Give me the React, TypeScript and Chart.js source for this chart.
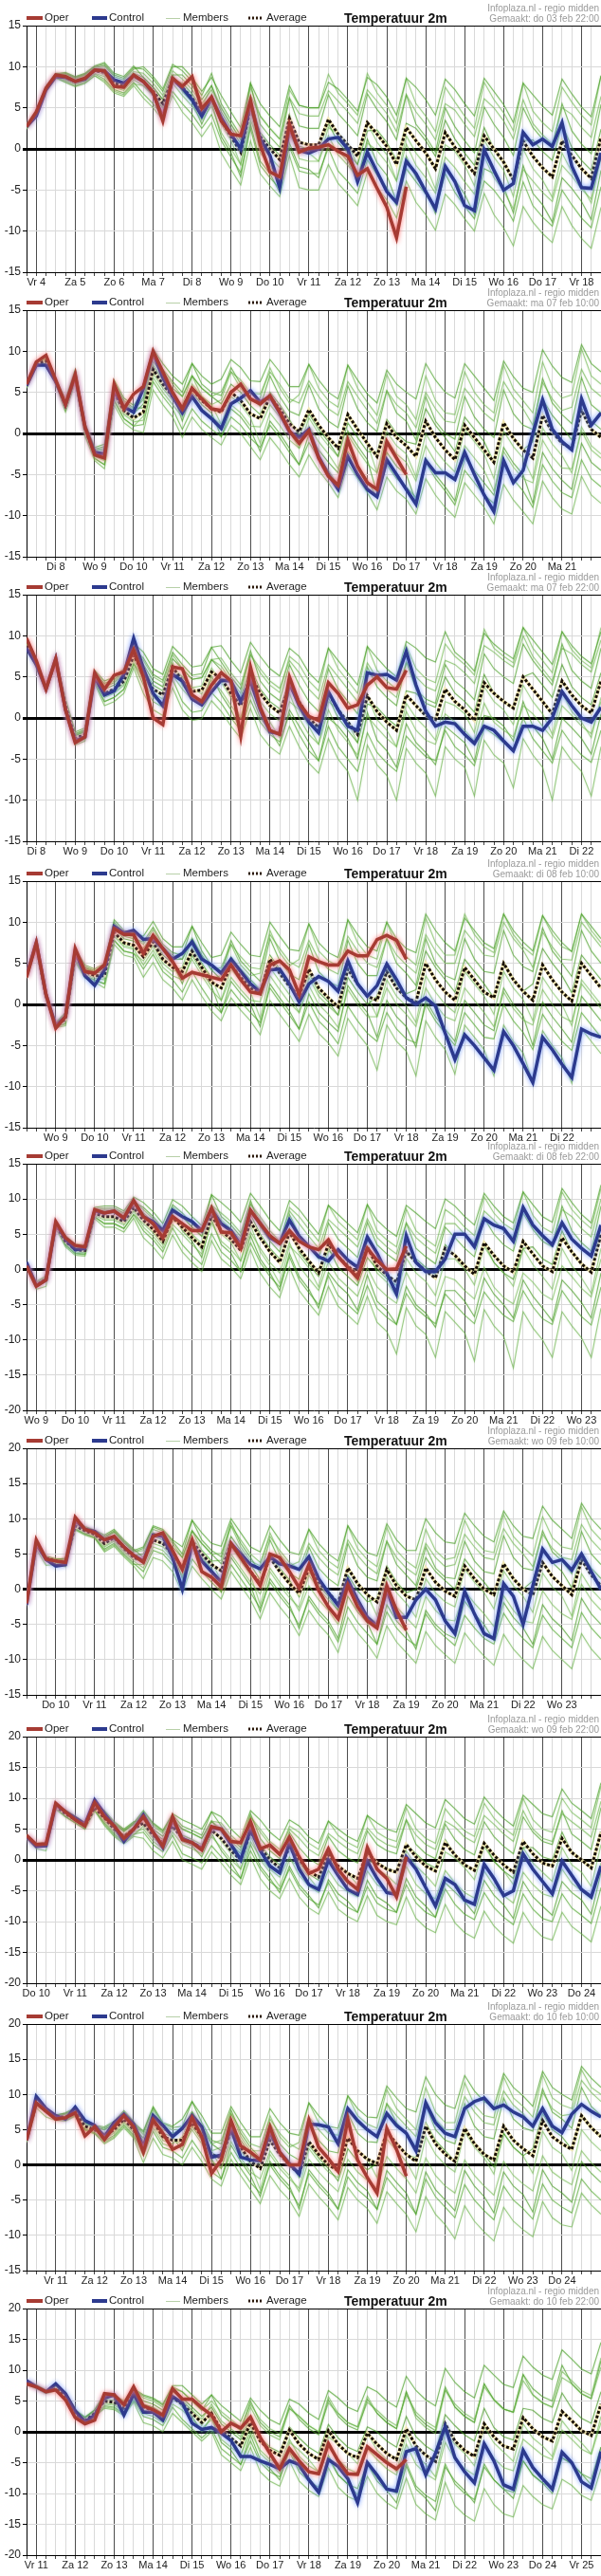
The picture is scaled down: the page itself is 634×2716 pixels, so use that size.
import React, { useEffect, useRef } from 'react';
import { Chart, registerables } from 'chart.js';

Chart.register(...registerables);

// ---------------- Panel 1 (do 03 feb 22:00) ----------------
const P1_DAYS = ['Vr 4','Za 5','Zo 6','Ma 7','Di 8','Wo 9','Do 10','Vr 11','Za 12','Zo 13','Ma 14','Di 15','Wo 16','Do 17','Vr 18'];
const P1_OPER = [2.7,4.5,7.4,9.0, 8.8,8.2,8.6,9.6, 9.5,7.6,7.5,9.0, 8.2,6.9,3.4,8.6, 7.6,8.8,4.9,6.3, 3.4,1.8,1.6,5.9, 0.5,-2.8,-3.4,3.0, -0.4,0.1,0.2,0.5, -0.3,-0.9,-3.2,-2.4, -4.8,-7.1,-10.8,-4.6];
const P1_CONTROL = [2.7,4.0,7.2,8.8, 8.7,8.2,8.5,9.6, 9.5,8.4,8.0,8.9, 8.2,6.8,3.8,8.5, 7.4,6.0,4.0,6.2, 3.8,1.8,0.0,5.5, 1.2,-0.8,-4.7,2.6, -0.2,-0.5,0.0,1.2, 1.4,0.0,-4.0,-0.4, -2.8,-5.2,-6.5,-1.5, -3.0,-5.2,-7.3,-2.1, -4.0,-6.9,-7.5,-0.1, -2.6,-5.0,-4.2,2.0, 0.5,1.2,0.3,3.2, -2.1,-4.7,-4.8,-0.5];
const P1_AVERAGE = [2.7,4.3,7.3,8.9, 8.7,8.2,8.6,9.5, 9.3,8.0,7.6,8.9, 8.2,7.0,5.5,8.5, 7.5,6.2,4.5,6.2, 3.5,1.5,-0.4,5.0, 1.5,0.0,-1.3,3.7, 0.8,0.5,0.5,3.6, 1.8,0.5,-0.9,3.2, 1.8,0.3,-1.9,2.6, 1.0,-0.5,-2.4,2.0, 0.2,-1.5,-3.0,1.6, 0.0,-1.6,-3.8,1.0, -0.9,-2.3,-3.4,1.0, -0.8,-2.4,-3.6,1.4];
const P1_MEMBERS = [
  [3.0,4.6,7.6,9.2, 9.2,8.7,9.1,10.0, 10.3,9.0,8.6,9.9, 9.7,8.5,7.0,10.0, 10.0,8.7,7.0,8.7, 6.5,4.5,2.6,8.0, 5.5,4.0,2.7,7.7, 5.3,5.0,5.0,8.1, 7.3,6.0,4.6,8.7, 7.8,6.3,4.1,8.6, 7.5,6.0,4.1,8.5, 7.2,5.5,4.0,8.6, 7.0,5.4,3.2,8.0, 6.6,5.2,4.1,8.5, 6.7,5.1,3.9,8.9],
  [2.9,4.5,7.5,9.1, 9.0,8.5,8.9,9.8, 9.8,8.5,8.1,9.4, 9.2,8.0,6.5,9.5, 8.5,7.2,5.5,7.2, 5.0,3.0,1.1,6.5, 4.0,2.5,1.2,6.2, 4.3,4.0,4.0,7.1, 5.8,4.5,3.1,7.2, 5.8,4.3,2.1,6.6, 4.5,3.0,1.1,5.5, 4.7,3.0,1.5,6.1, 5.0,3.4,1.2,6.0, 3.1,1.7,0.6,5.0, 4.2,2.6,1.4,6.4],
  [2.6,4.2,7.2,8.8, 8.9,8.4,8.8,9.7, 9.6,8.3,7.9,9.2, 8.7,7.5,6.0,9.0, 9.0,7.7,6.0,7.7, 4.5,2.5,0.6,6.0, 2.0,0.5,-0.8,4.2, 0.3,0.0,0.0,3.1, 0.8,-0.5,-1.9,2.2, 2.3,0.8,-1.4,3.1, 2.5,1.0,-0.9,3.5, 1.2,-0.5,-2.0,2.6, 0.0,-1.6,-3.8,1.0, 1.1,-0.3,-1.4,3.0, 0.2,-1.4,-2.6,2.4],
  [2.7,4.3,7.3,8.9, 8.4,7.9,8.3,9.2, 8.8,7.5,7.1,8.4, 7.7,6.5,5.0,8.0, 6.5,5.2,3.5,5.2, 2.0,0.0,-1.9,3.5, 0.5,-1.0,-2.3,2.7, -1.2,-1.5,-1.5,1.6, -0.7,-2.0,-3.4,0.7, -0.2,-1.7,-3.9,0.6, -2.0,-3.5,-5.4,-1.0, -2.3,-4.0,-5.5,-0.9, -3.5,-5.1,-7.3,-2.5, -3.9,-5.3,-6.4,-2.0, -3.3,-4.9,-6.1,-1.1],
  [2.5,4.1,7.1,8.7, 8.3,7.8,8.2,9.1, 8.5,7.2,6.8,8.1, 6.7,5.5,4.0,7.0, 5.5,4.2,2.5,4.2, 1.0,-1.0,-2.9,2.5, -2.0,-3.5,-4.8,0.2, -2.7,-3.0,-3.0,0.1, -2.7,-4.0,-5.4,-1.3, -3.2,-4.7,-6.9,-2.4, -4.0,-5.5,-7.4,-3.0, -5.3,-7.0,-8.5,-3.9, -5.0,-6.6,-8.8,-4.0, -6.9,-8.3,-9.4,-5.0, -6.8,-8.4,-9.6,-4.6],
  [2.4,4.0,7.0,8.6, 8.1,7.6,8.0,8.9, 8.1,6.8,6.4,7.7, 6.2,5.0,3.5,6.5, 4.5,3.2,1.5,3.2, -0.5,-2.5,-4.4,1.0, -3.0,-4.5,-5.8,-0.8, -4.7,-5.0,-5.0,-1.9, -4.2,-5.5,-6.9,-2.8, -4.7,-6.2,-8.4,-3.9, -6.5,-8.0,-9.9,-5.5, -6.8,-8.5,-10.0,-5.4, -8.0,-9.6,-11.8,-7.0, -8.9,-10.3,-11.4,-7.0, -9.3,-10.9,-12.1,-7.1],
  [2.8,4.4,7.4,9.0, 9.1,8.6,9.0,9.9, 10.1,8.8,8.4,9.7, 10.0,8.8,7.3,10.3, 9.5,8.2,6.5,9.2, 5.5,3.5,1.6,8.0, 3.0,1.5,0.2,6.2, 2.8,2.5,2.5,6.6, 4.3,3.0,1.6,6.7, 4.8,3.3,1.1,6.6, 3.0,1.5,-0.4,5.0, 2.7,1.0,-0.5,5.1, 3.0,1.4,-0.8,5.0, 2.6,1.2,0.1,5.5, 2.2,0.6,-0.6,5.4],
  [2.6,4.2,7.2,8.8, 8.7,8.2,8.6,9.5, 9.0,7.7,7.3,8.6, 8.2,7.0,5.5,8.5, 8.0,6.7,4.0,6.7, 3.0,1.0,-1.9,4.5, -0.5,-2.0,-4.3,1.7, -0.2,-0.5,-1.5,2.6, 1.8,0.5,-1.9,3.2, 0.8,-0.7,-3.9,1.6, -0.5,-2.0,-4.9,0.5, -0.3,-2.0,-4.5,1.1, -1.0,-2.6,-5.8,0.0, -2.4,-3.8,-5.9,-0.5, -2.8,-4.4,-6.6,-0.6],
  [2.9,4.5,7.5,9.1, 9.3,8.8,9.2,10.1, 10.5,9.2,8.8,10.1, 8.7,7.5,6.0,9.0, 7.0,5.7,3.0,5.7, 1.5,-0.5,-3.4,3.0, -1.5,-3.0,-5.3,0.7, -2.2,-2.5,-3.5,0.6, -0.2,-1.5,-3.9,1.2, -1.7,-3.2,-6.4,-0.9, -3.5,-5.0,-7.9,-2.5, -3.8,-5.5,-8.0,-2.4, -3.0,-4.6,-7.8,-2.0, -5.4,-6.8,-8.9,-3.5, -4.8,-6.4,-8.6,-2.6],
  [2.5,4.1,7.1,8.7, 8.1,7.6,8.0,8.9, 8.3,7.0,6.6,7.9, 7.7,6.5,5.0,8.0, 8.0,6.7,5.0,7.7, 5.0,3.0,1.1,7.5, 4.0,2.5,1.2,7.2, 5.3,5.0,5.0,9.1, 6.8,5.5,4.1,9.2, 6.8,5.3,3.1,8.6, 5.5,4.0,2.1,7.5, 5.7,4.0,2.5,8.1, 6.0,4.4,2.2,8.0, 4.6,3.2,2.1,7.5, 5.7,4.1,2.9,8.9],
];

// ---------------- Panel 2 (ma 07 feb 10:00) ----------------
const P2_DAYS = ['Di 8','Wo 9','Do 10','Vr 11','Za 12','Zo 13','Ma 14','Di 15','Wo 16','Do 17','Vr 18','Za 19','Zo 20','Ma 21'];
const P2_OPER = [6.0,8.7,9.5,6.5, 3.5,7.2,0.8,-2.6, -3.0,6.0,3.0,4.8, 5.7,10.0,7.5,5.0, 3.0,5.5,4.2,3.0, 2.8,5.0,6.0,4.2, 3.6,4.6,2.6,0.3, -1.2,0.3,-3.0,-5.2, -6.3,-0.8,-4.0,-6.0, -6.8,-1.0,-3.0,-5.0];
const P2_CONTROL = [5.8,8.3,8.3,6.3, 3.5,7.0,0.8,-2.3, -2.5,5.2,3.2,2.6, 5.5,9.8,6.8,4.5, 2.5,4.5,2.8,1.8, 0.6,3.6,4.3,5.2, 3.8,4.5,2.5,0.2, -0.5,0.5,-2.8,-5.0, -6.8,-2.8,-5.0,-6.8, -7.7,-3.2,-5.0,-6.8, -8.6,-3.3,-4.8,-4.8, -5.6,-2.3,-5.0,-7.5, -9.5,-3.3,-6.0,-4.5, 0.0,4.1,0.5,-1.0, -2.0,4.2,1.0,2.5];
const P2_AVERAGE = [5.8,8.5,8.8,6.3, 3.4,7.0,0.5,-2.5, -2.8,5.0,2.8,1.9, 2.6,7.8,6.0,4.5, 3.0,5.5,4.0,3.0, 2.6,5.0,4.0,2.4, 1.8,4.5,3.0,1.2, 0.2,2.9,1.0,-0.5, -1.8,2.3,0.5,-1.2, -2.8,1.2,-0.5,-1.5, -2.8,1.5,-0.5,-2.0, -3.2,1.0,-0.5,-2.0, -3.5,1.3,-0.6,-2.0, -3.0,2.2,0.2,-1.2, -1.8,2.8,0.5,-0.5];
const P2_MEMBERS = [
  [6.1,8.8,9.1,6.6, 4.2,7.8,1.3,-1.7, -1.3,6.5,4.3,3.4, 5.1,10.3,8.5,7.0, 6.0,8.5,7.0,6.0, 6.6,9.0,8.0,6.4, 6.3,9.0,7.5,5.7, 5.7,8.4,6.5,5.0, 4.2,8.3,6.5,4.8, 3.7,7.7,6.0,5.0, 4.2,8.5,6.5,5.0, 4.3,8.5,7.0,5.5, 4.0,8.8,6.9,5.5, 5.0,10.2,8.2,6.8, 6.2,10.8,8.5,7.5],
  [6.0,8.7,9.0,6.5, 3.9,7.5,1.0,-2.0, -1.8,6.0,3.8,2.9, 4.1,9.3,7.5,6.0, 4.5,7.0,5.5,4.5, 5.1,7.5,6.5,4.9, 4.8,7.5,6.0,4.2, 3.7,6.4,4.5,3.0, 2.2,6.3,4.5,2.8, 1.2,5.2,3.5,2.5, 0.7,5.0,3.0,1.5, 1.3,5.5,4.0,2.5, 1.5,6.3,4.4,3.0, 1.0,6.2,4.2,2.8, 3.2,7.8,5.5,4.5],
  [5.7,8.4,8.7,6.2, 3.7,7.3,0.8,-2.2, -2.3,5.5,3.3,2.4, 3.6,8.8,7.0,5.5, 4.5,7.0,5.5,4.5, 3.6,6.0,5.0,3.4, 2.3,5.0,3.5,1.7, -0.3,2.4,0.5,-1.0, -2.8,1.3,-0.5,-2.2, -2.3,1.7,0.0,-1.0, -1.3,3.0,1.0,-0.5, -2.2,2.0,0.5,-1.0, -3.5,1.3,-0.6,-2.0, -1.0,4.2,2.2,0.8, -0.8,3.8,1.5,0.5],
  [5.8,8.5,8.8,6.3, 3.1,6.7,0.2,-2.8, -3.3,4.5,2.3,1.4, 1.6,6.8,5.0,3.5, 2.0,4.5,3.0,2.0, 1.1,3.5,2.5,0.9, 0.8,3.5,2.0,0.2, -1.8,0.9,-1.0,-2.5, -4.3,-0.2,-2.0,-3.7, -4.8,-0.8,-2.5,-3.5, -5.8,-1.5,-3.5,-5.0, -5.7,-1.5,-3.0,-4.5, -7.0,-2.2,-4.1,-5.5, -6.0,-0.8,-2.8,-4.2, -4.3,0.3,-2.0,-3.0],
  [5.6,8.3,8.6,6.1, 2.9,6.5,0.0,-3.0, -3.8,4.0,1.8,0.9, 1.1,6.3,4.5,3.0, 0.5,3.0,1.5,0.5, -0.4,2.0,1.0,-0.6, -1.7,1.0,-0.5,-2.3, -3.8,-1.1,-3.0,-4.5, -6.3,-2.2,-4.0,-5.7, -7.8,-3.8,-5.5,-6.5, -7.8,-3.5,-5.5,-7.0, -8.7,-4.5,-6.0,-7.5, -8.5,-3.7,-5.6,-7.0, -9.0,-3.8,-5.8,-7.2, -7.8,-3.2,-5.5,-6.5],
  [5.5,8.2,8.5,6.0, 2.6,6.2,-0.3,-3.3, -4.3,3.5,1.3,0.4, 0.1,5.3,3.5,2.0, -0.5,2.0,0.5,-0.5, -1.4,1.0,0.0,-1.6, -3.2,-0.5,-2.0,-3.8, -5.3,-2.6,-4.5,-6.0, -7.8,-3.7,-5.5,-7.2, -9.3,-5.3,-7.0,-8.0, -9.8,-5.5,-7.5,-9.0, -10.2,-6.0,-7.5,-9.0, -11.0,-6.2,-8.1,-9.5, -11.0,-5.8,-7.8,-9.2, -9.8,-5.2,-7.5,-8.5],
  [5.9,8.6,8.9,6.4, 3.8,7.4,0.9,-2.1, -2.0,5.8,3.6,2.7, 4.4,9.6,7.8,6.3, 5.0,8.5,6.0,5.0, 4.6,8.0,6.0,4.4, 3.3,7.0,4.5,2.7, 2.2,5.9,3.0,1.5, 0.7,5.8,3.0,1.3, 0.2,5.2,2.5,1.5, -0.8,4.5,1.5,0.0, -0.7,4.5,2.0,0.5, -0.5,5.3,2.4,1.0, 0.5,6.7,3.7,2.3, 1.2,6.8,3.5,2.5],
  [5.7,8.4,8.7,6.2, 3.4,7.0,0.5,-2.5, -3.1,4.7,2.5,1.6, 2.6,7.8,6.0,4.5, 2.5,6.0,4.5,3.5, 1.1,4.5,3.5,1.9, -1.2,2.5,1.0,-0.8, -1.8,1.9,0.0,-1.5, -2.8,2.3,0.5,-1.2, -4.8,0.2,-1.5,-2.5, -5.3,0.0,-2.0,-3.5, -4.7,0.5,-1.0,-2.5, -5.5,0.3,-1.6,-3.0, -5.5,0.7,-1.3,-2.7, -4.8,0.8,-1.5,-2.5],
  [6.0,8.7,9.0,6.5, 4.0,7.6,1.1,-1.9, -1.6,6.2,4.0,3.1, 3.1,8.3,6.5,5.0, 1.5,5.0,3.5,2.5, -0.4,3.0,2.0,0.4, -2.2,1.5,0.0,-1.8, -3.8,-0.1,-2.0,-3.5, -4.8,0.3,-1.5,-3.2, -7.3,-2.3,-4.0,-5.0, -8.3,-3.0,-5.0,-6.5, -8.2,-3.0,-4.5,-6.0, -7.5,-1.7,-3.6,-5.0, -8.5,-2.3,-4.3,-5.7, -6.8,-1.2,-3.5,-4.5],
  [5.6,8.3,8.6,6.1, 2.8,6.4,-0.1,-3.1, -3.8,4.0,1.8,0.9, 2.1,7.3,5.5,4.0, 3.5,7.0,4.5,3.5, 4.1,7.5,5.5,3.9, 4.3,8.0,5.5,3.7, 4.7,8.4,5.5,4.0, 3.2,8.3,5.5,3.8, 2.2,7.2,4.5,3.5, 1.7,7.0,4.0,2.5, 2.3,7.5,5.0,3.5, 2.5,8.3,5.4,4.0, 2.5,8.7,5.7,4.3, 4.7,10.3,7.0,6.0],
];

// ---------------- Panel 3 (ma 07 feb 22:00) ----------------
const P3_DAYS = ['Di 8','Wo 9','Do 10','Vr 11','Za 12','Zo 13','Ma 14','Di 15','Wo 16','Do 17','Vr 18','Za 19','Zo 20','Ma 21','Di 22'];
const P3_OPER = [9.7,7.0,3.5,7.2, 1.0,-3.0,-2.3,5.5, 3.5,5.2,5.6,8.3, 5.0,0.0,-0.8,6.2, 6.0,2.8,2.0,4.0, 5.5,4.5,-2.2,6.2, 1.3,-1.5,-2.0,5.0, 1.8,0.2,-0.3,4.3, 3.0,1.2,1.6,4.0, 5.0,3.7,3.5,5.8];
const P3_CONTROL = [8.5,6.5,3.5,7.2, 1.0,-2.8,-2.3,5.0, 2.8,3.3,5.3,9.7, 6.0,3.0,1.5,5.3, 4.5,2.3,1.6,3.2, 4.6,4.5,2.0,4.5, 1.0,-1.7,-1.9,4.3, 1.5,-0.5,-1.8,3.2, 1.0,-1.0,-1.5,5.5, 5.2,5.3,4.6,8.1, 4.0,0.8,-1.0,-0.5, -0.7,-2.0,-3.1,-1.0, -1.5,-2.8,-4.0,-1.0, -1.0,-1.5,0.0,3.2, 1.5,0.0,-0.5,1.3];
const P3_AVERAGE = [8.8,6.5,3.6,7.0, 1.5,-2.5,-2.0,5.0, 3.0,3.5,4.5,7.6, 5.5,3.5,2.8,6.2, 4.5,3.2,3.4,5.6, 4.8,3.0,1.5,5.2, 3.0,1.5,0.6,4.0, 2.0,0.0,-1.2,3.0, 1.0,-0.5,-2.0,2.7, 0.8,-0.5,-1.5,2.8, 1.5,0.3,-0.2,3.5, 2.0,1.0,-0.3,4.3, 3.0,2.0,1.2,5.0, 3.5,2.0,0.5,4.5, 2.8,1.5,0.6,4.5];
const P3_MEMBERS = [
  [9.1,6.8,3.9,7.3, 2.3,-1.7,-1.2,5.8, 4.5,5.0,6.0,9.1, 8.0,6.0,5.3,8.7, 7.5,6.2,6.4,8.6, 8.8,7.0,5.5,9.2, 7.5,6.0,5.1,8.5, 7.5,5.5,4.3,8.5, 7.0,5.5,4.0,8.7, 7.3,6.0,5.0,9.3, 8.5,7.3,6.8,10.5, 8.0,7.0,5.7,10.3, 9.0,8.0,7.2,11.0, 9.5,8.0,6.5,10.5, 8.8,7.5,6.6,10.5],
  [9.0,6.7,3.8,7.2, 2.0,-2.0,-1.5,5.5, 4.0,4.5,5.5,8.6, 7.0,5.0,4.3,7.7, 6.0,4.7,4.9,7.1, 7.3,5.5,4.0,7.7, 6.0,4.5,3.6,7.0, 5.5,3.5,2.3,6.5, 5.0,3.5,2.0,6.7, 4.8,3.5,2.5,6.8, 5.0,3.8,3.3,7.0, 6.5,5.5,4.2,8.8, 8.0,7.0,6.2,10.0, 7.5,6.0,4.5,8.5, 7.8,6.5,5.6,9.5],
  [8.7,6.4,3.5,6.9, 1.8,-2.2,-1.7,5.3, 3.5,4.0,5.0,8.1, 6.5,4.5,3.8,7.2, 6.0,4.7,4.9,7.1, 5.8,4.0,2.5,6.2, 3.5,2.0,1.1,4.5, 1.5,-0.5,-1.7,2.5, 0.0,-1.5,-3.0,1.7, 1.3,0.0,-1.0,3.3, 3.0,1.8,1.3,5.0, 3.0,2.0,0.7,5.3, 3.0,2.0,1.2,5.0, 5.5,4.0,2.5,6.5, 3.8,2.5,1.6,5.5],
  [8.8,6.5,3.6,7.0, 1.2,-2.8,-2.3,4.7, 2.5,3.0,4.0,7.1, 4.5,2.5,1.8,5.2, 3.5,2.2,2.4,4.6, 3.3,1.5,0.0,3.7, 2.0,0.5,-0.4,3.0, 0.0,-2.0,-3.2,1.0, -1.5,-3.0,-4.5,0.2, -1.2,-2.5,-3.5,0.8, -1.5,-2.7,-3.2,0.5, -0.5,-1.5,-2.8,1.8, -0.5,-1.5,-2.3,1.5, 0.5,-1.0,-2.5,1.5, 0.3,-1.0,-1.9,2.0],
  [8.6,6.3,3.4,6.8, 1.0,-3.0,-2.5,4.5, 2.0,2.5,3.5,6.6, 4.0,2.0,1.3,4.7, 2.0,0.7,0.9,3.1, 1.8,0.0,-1.5,2.2, -0.5,-2.0,-2.9,0.5, -2.0,-4.0,-5.2,-1.0, -3.5,-5.0,-6.5,-1.8, -4.2,-5.5,-6.5,-2.2, -3.5,-4.7,-5.2,-1.5, -3.5,-4.5,-5.8,-1.2, -2.0,-3.0,-3.8,0.0, -2.5,-4.0,-5.5,-1.5, -3.2,-4.5,-5.4,-1.5],
  [8.5,6.2,3.3,6.7, 0.7,-3.3,-2.8,4.2, 1.5,2.0,3.0,6.1, 3.0,1.0,0.3,3.7, 1.0,-0.3,-0.1,2.1, 0.8,-1.0,-2.5,1.2, -2.0,-3.5,-4.4,-1.0, -3.5,-5.5,-6.7,-2.5, -5.0,-6.5,-10.0,-3.3, -5.7,-7.0,-10.0,-3.7, -5.5,-6.7,-9.5,-3.5, -5.0,-6.0,-9.5,-2.7, -4.5,-5.5,-8.5,-2.5, -4.5,-6.0,-10.0,-3.5, -5.2,-6.5,-9.5,-3.5],
  [8.9,6.6,3.7,7.1, 1.9,-2.1,-1.6,5.4, 3.8,4.3,5.3,8.4, 7.3,5.3,4.6,8.0, 6.5,5.2,5.4,8.6, 6.8,5.0,3.5,8.2, 4.5,3.0,2.1,6.5, 4.0,2.0,0.8,6.0, 3.5,2.0,0.5,6.2, 3.8,2.5,1.5,6.8, 3.5,2.3,1.8,6.5, 4.5,3.5,2.2,7.8, 6.0,5.0,4.2,9.0, 7.0,5.5,4.0,9.0, 5.8,4.5,3.6,8.5],
  [8.7,6.4,3.5,6.9, 1.5,-2.5,-2.0,5.0, 2.7,3.2,4.2,7.3, 5.5,3.5,2.8,6.2, 5.0,3.7,2.9,6.1, 4.3,2.5,0.0,4.7, 1.0,-0.5,-2.4,2.0, 1.0,-1.0,-3.2,2.0, 1.0,-0.5,-3.0,2.7, -0.2,-1.5,-3.5,1.8, 0.0,-1.2,-2.7,2.0, 1.5,0.5,-1.8,3.8, 2.0,1.0,-0.8,4.0, 2.0,0.5,-2.0,3.0, 0.8,-0.5,-2.4,2.5],
  [9.0,6.7,3.8,7.2, 2.1,-1.9,-1.4,5.6, 4.2,4.7,5.7,8.8, 6.0,4.0,3.3,6.7, 4.0,2.7,1.9,5.1, 2.8,1.0,-1.5,3.2, 0.0,-1.5,-3.4,1.0, -1.0,-3.0,-5.2,0.0, -1.0,-2.5,-5.0,0.7, -2.7,-4.0,-6.0,-0.7, -3.0,-4.2,-5.7,-1.0, -2.0,-3.0,-5.3,0.3, 0.0,-1.0,-2.8,2.0, -1.0,-2.5,-5.0,0.0, -1.2,-2.5,-4.4,0.5],
  [8.6,6.3,3.4,6.8, 0.9,-3.1,-2.6,4.4, 2.0,2.5,3.5,6.6, 5.0,3.0,2.3,5.7, 5.0,3.7,3.9,7.1, 6.3,4.5,3.0,7.7, 5.5,4.0,3.1,7.5, 6.5,4.5,3.3,8.5, 6.0,4.5,3.0,8.7, 5.8,4.5,3.5,8.8, 6.0,4.8,4.3,9.0, 7.5,6.5,5.2,10.8, 8.5,7.5,6.7,11.0, 8.5,7.0,5.5,10.5, 8.3,7.0,6.1,11.0],
];

// ---------------- Panel 4 (di 08 feb 10:00) ----------------
const P4_DAYS = ['Wo 9','Do 10','Vr 11','Za 12','Zo 13','Ma 14','Di 15','Wo 16','Do 17','Vr 18','Za 19','Zo 20','Ma 21','Di 22'];
const P4_OPER = [3.3,7.5,1.2,-2.9, -1.5,6.8,4.0,3.8, 4.8,9.2,8.5,8.5, 6.2,8.4,6.8,5.2, 3.2,3.9,3.6,3.3, 3.0,4.8,3.0,1.5, 1.3,4.8,5.3,4.2, 1.2,5.8,5.2,4.8, 4.8,6.5,5.9,5.9, 7.9,8.4,7.8,5.5];
const P4_CONTROL = [3.5,7.5,1.2,-2.6, -1.5,6.5,3.5,2.3, 4.2,9.5,8.7,9.0, 7.9,8.0,6.8,5.5, 6.2,7.6,5.5,4.8, 3.8,5.5,4.0,2.5, 1.5,4.2,4.3,2.5, 0.3,2.5,3.4,2.8, 1.6,5.3,2.5,1.0, 2.3,4.9,3.0,0.8, 0.0,0.8,-0.2,-3.5, -6.7,-3.7,-5.0,-6.5, -8.0,-3.3,-5.0,-7.2, -9.5,-4.0,-5.5,-7.3, -8.9,-3.0,-3.6,-4.0];
const P4_AVERAGE = [3.5,7.3,1.0,-2.5, -1.8,6.0,4.0,3.5, 3.5,8.8,7.5,7.2, 5.8,7.6,5.5,4.5, 4.0,6.5,4.5,2.7, 2.0,4.8,3.3,2.0, 1.3,5.5,3.8,2.2, 1.0,4.3,2.0,0.8, -0.3,4.3,2.5,1.0, 0.5,4.0,2.0,0.8, 0.3,5.0,3.0,1.5, 0.5,4.5,3.0,1.5, 0.8,5.0,3.0,1.6, 0.5,4.8,3.0,1.5, 0.4,5.0,3.5,2.0];
const P4_MEMBERS = [
  [3.8,7.6,1.3,-2.2, -1.0,6.8,4.8,4.3, 5.0,10.3,9.0,8.7, 8.3,10.1,8.0,7.0, 7.0,9.5,7.5,5.7, 6.0,8.8,7.3,6.0, 5.8,10.0,8.3,6.7, 6.5,9.8,7.5,6.3, 5.7,10.3,8.5,7.0, 6.5,10.0,8.0,6.8, 6.3,11.0,9.0,7.5, 6.5,10.5,9.0,7.5, 6.8,11.0,9.0,7.6, 6.5,10.8,9.0,7.5, 6.4,11.0,9.5,8.0],
  [3.7,7.5,1.2,-2.3, -1.3,6.5,4.5,4.0, 4.5,9.8,8.5,8.2, 7.3,9.1,7.0,6.0, 5.5,8.0,6.0,4.2, 4.5,7.3,5.8,4.5, 4.3,8.5,6.8,5.2, 4.5,7.8,5.5,4.3, 3.7,8.3,6.5,5.0, 4.5,8.0,6.0,4.8, 3.8,8.5,6.5,5.0, 5.0,9.0,7.5,6.0, 5.8,10.0,8.0,6.6, 4.5,8.8,7.0,5.5, 5.4,10.0,8.5,7.0],
  [3.4,7.2,0.9,-2.6, -1.5,6.3,4.3,3.8, 4.0,9.3,8.0,7.7, 6.8,8.6,6.5,5.5, 5.5,8.0,6.0,4.2, 3.0,5.8,4.3,3.0, 1.8,6.0,4.3,2.7, 0.5,3.8,1.5,0.3, -1.3,3.3,1.5,0.0, 1.0,4.5,2.5,1.3, 1.8,6.5,4.5,3.0, 1.5,5.5,4.0,2.5, 0.8,5.0,3.0,1.6, 2.5,6.8,5.0,3.5, 1.4,6.0,4.5,3.0],
  [3.5,7.3,1.0,-2.5, -2.1,5.7,3.7,3.2, 3.0,8.3,7.0,6.7, 4.8,6.6,4.5,3.5, 3.0,5.5,3.5,1.7, 0.5,3.3,1.8,0.5, 0.3,4.5,2.8,1.2, -1.0,2.3,0.0,-1.2, -2.8,1.8,0.0,-1.5, -1.5,2.0,0.0,-1.2, -2.7,2.0,0.0,-1.5, -2.0,2.0,0.5,-1.0, -2.7,1.5,-0.5,-1.9, -2.5,1.8,0.0,-1.5, -2.1,2.5,1.0,-0.5],
  [3.3,7.1,0.8,-2.7, -2.3,5.5,3.5,3.0, 2.5,7.8,6.5,6.2, 4.3,6.1,4.0,3.0, 1.5,4.0,2.0,0.2, -1.0,1.8,0.3,-1.0, -2.2,2.0,0.3,-1.3, -3.0,0.3,-2.0,-3.2, -4.8,-0.2,-2.0,-3.5, -4.5,-1.0,-3.0,-4.2, -4.7,0.0,-2.0,-3.5, -5.0,-1.0,-2.5,-4.0, -4.2,0.0,-2.0,-3.4, -5.5,-1.2,-3.0,-4.5, -5.6,-1.0,-2.5,-4.0],
  [3.2,7.0,0.7,-2.8, -2.6,5.2,3.2,2.7, 2.0,7.3,6.0,5.7, 3.3,5.1,3.0,2.0, 0.5,3.0,1.0,-0.8, -2.0,0.8,-0.7,-2.0, -3.7,0.5,-1.2,-2.8, -4.5,-1.2,-3.5,-4.7, -6.3,-1.7,-3.5,-5.0, -8.0,-2.5,-4.5,-5.7, -8.7,-2.0,-4.0,-5.5, -8.5,-2.5,-4.0,-5.5, -8.7,-2.5,-4.5,-5.9, -9.5,-3.2,-5.0,-6.5, -9.6,-3.0,-4.5,-6.0],
  [3.6,7.4,1.1,-2.4, -1.4,6.4,4.4,3.9, 4.3,9.6,8.3,8.0, 7.6,9.4,7.3,6.3, 6.0,9.5,6.5,4.7, 4.0,7.8,5.3,4.0, 2.8,8.0,5.3,3.7, 3.0,7.3,4.0,2.8, 2.2,7.8,5.0,3.5, 3.5,8.0,5.0,3.8, 2.3,8.0,5.0,3.5, 3.0,8.0,5.5,4.0, 3.8,9.0,6.0,4.6, 4.0,9.3,6.5,5.0, 3.4,9.0,6.5,5.0],
  [3.4,7.2,0.9,-2.6, -1.8,6.0,4.0,3.5, 3.2,8.5,7.2,6.9, 5.8,7.6,5.5,4.5, 3.5,7.0,5.0,3.2, 0.5,4.3,2.8,1.5, -1.7,3.5,1.8,0.2, -1.0,3.3,1.0,-0.2, -1.3,4.3,2.5,1.0, -1.5,3.0,1.0,-0.2, -2.2,3.5,1.5,0.0, -1.0,4.0,2.5,1.0, -1.2,4.0,2.0,0.6, -2.0,3.3,1.5,0.0, -2.6,3.0,1.5,0.0],
  [3.7,7.5,1.2,-2.3, -1.2,6.6,4.6,4.1, 4.7,10.0,8.7,8.4, 6.3,8.1,6.0,5.0, 2.5,6.0,4.0,2.2, -1.0,2.8,1.3,0.0, -2.7,2.5,0.8,-0.8, -3.0,1.3,-1.0,-2.2, -3.3,2.3,0.5,-1.0, -4.0,0.5,-1.5,-2.7, -5.2,0.5,-1.5,-3.0, -4.5,0.5,-1.0,-2.5, -3.2,2.0,0.0,-1.4, -5.0,0.3,-1.5,-3.0, -4.6,1.0,-0.5,-2.0],
  [3.3,7.1,0.8,-2.7, -2.4,5.4,3.4,2.9, 2.5,7.8,6.5,6.2, 5.3,7.1,5.0,4.0, 4.5,8.0,5.0,3.2, 3.5,7.3,4.8,3.5, 3.8,9.0,6.3,4.7, 5.5,9.8,6.5,5.3, 4.7,10.3,7.5,6.0, 5.5,10.0,7.0,5.8, 4.8,10.5,7.5,6.0, 6.0,11.0,8.5,7.0, 6.3,11.0,8.5,7.0, 6.0,10.8,8.5,7.0, 6.5,11.0,9.0,7.5],
];

// ---------------- Panel 5 (di 08 feb 22:00) ----------------
const P5_DAYS = ['Wo 9','Do 10','Vr 11','Za 12','Zo 13','Ma 14','Di 15','Wo 16','Do 17','Vr 18','Za 19','Zo 20','Ma 21','Di 22','Wo 23'];
const P5_OPER = [0.5,-2.4,-1.5,6.8, 4.5,3.4,3.2,8.5, 8.0,8.3,7.3,9.8, 7.5,6.5,4.5,7.5, 6.5,5.5,5.5,8.7, 5.3,5.2,3.0,8.4, 6.5,4.8,3.7,5.5, 4.0,3.2,2.8,4.2, 1.8,0.3,-1.2,3.0, 1.3,0.0,0.1,3.3];
const P5_CONTROL = [1.0,-2.3,-1.5,6.5, 4.3,2.8,3.0,8.3, 8.0,8.3,7.2,9.7, 7.5,6.8,5.5,8.4, 7.5,6.8,5.5,8.5, 6.5,5.5,3.5,8.3, 6.5,4.5,3.7,7.0, 4.7,3.3,1.8,1.2, 2.8,1.3,0.3,4.6, 2.3,-0.5,-3.5,4.8, 1.0,-0.3,-0.3,1.5, 5.0,5.0,3.2,7.2, 6.3,5.8,4.0,8.8, 6.3,4.8,3.5,6.6, 4.3,3.0,1.9,6.3];
const P5_AVERAGE = [0.5,-2.2,-1.4,6.3, 4.0,2.8,2.7,8.0, 7.5,7.5,6.8,8.8, 7.0,5.7,4.0,7.4, 6.0,4.5,3.2,7.6, 5.5,4.3,2.7,6.8, 4.5,2.5,1.0,5.3, 3.0,1.2,-0.5,3.6, 1.8,0.5,-0.8,3.2, 0.5,-0.8,-1.8,2.6, 1.0,-0.2,-1.2,3.0, 2.0,0.5,-0.7,3.8, 2.0,0.5,-0.4,4.0, 2.2,0.5,-0.3,4.5, 2.5,0.8,-0.4,5.0];
const P5_MEMBERS = [
  [0.8,-1.9,-1.1,6.6, 4.8,3.6,3.5,8.8, 9.0,9.0,8.3,10.3, 9.5,8.2,6.5,9.9, 9.0,7.5,6.2,10.6, 9.5,8.3,6.7,10.8, 9.0,7.0,5.5,9.8, 8.5,6.7,5.0,9.1, 7.8,6.5,5.2,9.2, 7.0,5.7,4.7,9.1, 8.0,6.8,5.8,10.0, 9.0,7.5,6.3,10.8, 9.0,7.5,6.6,11.0, 9.2,7.5,6.7,11.5, 9.5,7.8,6.6,12.0],
  [0.7,-1.7,-0.9,6.5, 4.5,3.3,3.2,8.5, 8.5,8.5,7.8,9.8, 8.5,7.2,5.5,8.9, 7.5,6.0,4.7,9.1, 8.0,6.8,5.2,9.3, 7.5,5.5,4.0,8.3, 6.5,4.7,3.0,7.1, 5.8,4.5,3.2,7.2, 4.5,3.2,2.2,6.6, 4.5,3.3,2.3,6.5, 6.5,5.0,3.8,8.3, 7.0,5.5,4.6,9.0, 6.2,4.5,3.7,8.5, 7.5,5.8,4.6,10.0],
  [0.4,-2.3,-1.5,6.2, 4.3,3.1,3.0,8.3, 8.0,8.0,7.3,9.3, 8.0,6.7,5.0,8.4, 7.5,6.0,4.7,9.1, 6.5,5.3,3.7,7.8, 5.0,3.0,1.5,5.8, 2.5,0.7,-1.0,3.1, 0.3,-1.0,-2.3,1.7, 0.0,-1.3,-2.3,2.1, 1.5,0.3,-0.7,3.5, 2.0,0.5,-0.7,3.8, 1.0,-0.5,-1.4,3.0, 3.2,1.5,0.7,5.5, 2.5,0.8,-0.4,5.0],
  [0.5,-2.2,-1.4,6.3, 3.7,2.5,2.4,7.7, 7.0,7.0,6.3,8.3, 6.0,4.7,3.0,6.4, 5.0,3.5,2.2,6.6, 4.0,2.8,1.2,5.3, 3.0,1.0,-0.5,3.8, 0.5,-1.3,-3.0,1.1, -1.2,-2.5,-3.8,0.2, -2.5,-3.8,-4.8,-0.4, -3.0,-4.2,-5.2,-1.0, -1.5,-3.0,-4.2,0.3, -2.5,-4.0,-4.9,-0.5, -1.8,-3.5,-4.3,0.5, -1.0,-2.7,-3.9,1.5],
  [0.3,-2.4,-1.6,6.1, 3.5,2.3,2.2,7.5, 6.5,6.5,5.8,7.8, 5.5,4.2,2.5,5.9, 3.5,2.0,0.7,5.1, 2.5,1.3,-0.3,3.8, 1.0,-1.0,-2.5,1.8, -1.5,-3.3,-5.0,-0.9, -3.7,-5.0,-6.3,-2.3, -5.5,-6.8,-7.8,-3.4, -5.5,-6.7,-7.7,-3.5, -5.0,-6.5,-7.7,-3.2, -5.0,-6.5,-7.4,-3.0, -5.3,-7.0,-7.8,-3.0, -5.0,-6.7,-7.9,-2.5],
  [0.2,-2.5,-1.7,6.0, 3.2,2.0,1.9,7.2, 6.0,6.0,5.3,7.3, 4.5,3.2,1.5,4.9, 2.5,1.0,-0.3,4.1, 1.5,0.3,-1.3,2.8, -0.5,-2.5,-4.0,0.3, -3.0,-4.8,-6.5,-2.4, -5.2,-6.5,-7.8,-3.8, -7.5,-8.8,-12.0,-5.4, -8.0,-9.2,-12.5,-6.0, -7.5,-9.0,-13.0,-5.7, -8.0,-9.5,-14.0,-6.0, -8.3,-10.0,-12.5,-6.0, -8.0,-9.7,-12.5,-5.5],
  [0.6,-2.1,-1.3,6.4, 4.4,3.2,3.1,8.4, 8.3,8.3,7.6,9.6, 8.8,7.5,5.8,9.2, 8.0,6.5,5.2,10.6, 7.5,6.3,4.7,9.8, 6.0,4.0,2.5,7.8, 5.0,3.2,1.5,6.6, 4.3,3.0,1.7,6.7, 3.5,2.2,1.2,6.6, 3.0,1.8,0.8,6.0, 4.5,3.0,1.8,7.3, 5.0,3.5,2.6,8.0, 5.7,4.0,3.2,9.0, 5.5,3.8,2.6,9.0],
  [0.4,-2.3,-1.5,6.2, 4.0,2.8,2.7,8.0, 7.2,7.2,6.5,8.5, 7.0,5.7,4.0,7.4, 6.5,5.0,2.7,8.1, 5.0,3.8,1.2,6.3, 2.5,0.5,-2.0,3.3, 2.0,0.2,-2.5,2.6, 1.8,0.5,-1.8,3.2, -0.5,-1.8,-3.8,1.6, -0.5,-1.7,-3.7,1.5, 1.5,0.0,-2.2,3.3, 1.0,-0.5,-2.4,3.0, 0.7,-1.0,-2.8,3.0, 0.5,-1.2,-3.4,3.0],
  [0.7,-2.0,-1.2,6.5, 4.6,3.4,3.3,8.6, 8.7,8.7,8.0,10.0, 7.5,6.2,4.5,7.9, 5.5,4.0,1.7,7.1, 3.5,2.3,-0.3,4.8, 1.5,-0.5,-3.0,2.3, -1.0,-2.8,-5.5,-0.4, -2.2,-3.5,-5.8,-0.8, -4.5,-5.8,-7.8,-2.4, -5.0,-6.2,-8.2,-3.0, -3.0,-4.5,-6.7,-1.2, -3.5,-5.0,-6.9,-1.5, -3.8,-5.5,-7.3,-1.5, -3.0,-4.7,-6.9,-0.5],
  [0.3,-2.8,-2.4,5.8, 3.4,2.2,2.1,7.4, 6.5,6.5,5.8,7.8, 6.5,5.2,3.5,6.9, 6.5,5.0,3.7,9.1, 7.0,5.8,4.2,9.3, 7.0,5.0,3.5,8.8, 7.5,5.7,4.0,9.1, 6.8,5.5,4.2,9.2, 5.5,4.2,3.2,8.6, 5.5,4.3,3.3,8.5, 7.5,6.0,4.8,10.3, 8.0,6.5,5.6,11.0, 7.7,6.0,5.2,11.0, 8.5,7.0,5.8,11.5],
];

// ---------------- Panel 6 (wo 09 feb 10:00) ----------------
const P6_DAYS = ['Do 10','Vr 11','Za 12','Zo 13','Ma 14','Di 15','Wo 16','Do 17','Vr 18','Za 19','Zo 20','Ma 21','Di 22','Wo 23'];
const P6_OPER = [-2.0,7.0,4.3,4.0, 3.8,10.2,8.5,8.0, 7.0,7.5,6.0,4.8, 3.8,7.5,8.0,5.5, 2.8,7.0,2.5,1.7, 0.3,6.5,4.5,2.5, 0.5,5.0,4.5,2.5, 0.2,3.5,-0.2,-2.5, -4.2,0.6,-2.5,-4.5, -5.5,0.5,-3.0,-5.8];
const P6_CONTROL = [-2.2,6.5,4.2,3.3, 3.5,9.8,8.5,8.2, 7.0,7.4,6.0,4.8, 4.0,7.7,7.5,4.5, 0.0,6.5,4.0,2.5, 1.0,6.5,5.0,3.5, 2.9,4.6,3.6,3.3, 2.8,4.6,1.5,-0.5, -2.3,1.3,-1.5,-4.0, -5.2,0.0,-4.0,-4.0, -1.5,0.0,-1.5,-4.5, -6.3,-0.3,-3.5,-6.3, -7.0,0.8,-1.0,-5.0, 0.5,5.7,3.8,4.2, 2.7,5.0,2.5,0.0];
const P6_AVERAGE = [-2.0,6.3,4.4,4.0, 3.8,9.0,8.3,7.8, 6.5,7.3,5.8,4.5, 4.0,7.0,6.5,5.0, 3.0,6.8,5.0,3.5, 2.6,6.5,4.5,2.5, 0.8,4.5,2.5,0.8, -0.6,3.0,1.0,-0.5, -2.0,3.0,0.8,-0.8, -1.8,2.8,0.5,-1.0, -1.5,3.0,1.0,-0.3, -1.0,3.3,1.5,0.0, -0.8,3.6,1.5,0.0, -0.8,3.8,1.8,0.5, -0.8,4.2,2.0,0.5];
const P6_MEMBERS = [
  [-1.7,6.6,4.7,4.3, 4.3,9.5,8.8,8.3, 7.5,8.3,6.8,5.5, 6.0,9.0,8.5,7.0, 6.0,9.8,8.0,6.5, 6.1,10.0,8.0,6.0, 5.3,9.0,7.0,5.3, 4.9,8.5,6.5,5.0, 4.0,9.0,6.8,5.2, 4.7,9.3,7.0,5.5, 5.5,10.0,8.0,6.7, 6.5,10.8,9.0,7.5, 6.7,11.1,9.0,7.5, 7.2,11.8,9.8,8.5, 7.2,12.2,10.0,8.5],
  [-1.8,6.5,4.6,4.2, 4.1,9.3,8.6,8.1, 7.3,8.1,6.6,5.3, 5.5,8.5,8.0,6.5, 4.5,8.3,6.5,5.0, 5.1,9.0,7.0,5.0, 3.8,7.5,5.5,3.8, 2.9,6.5,4.5,3.0, 2.0,7.0,4.8,3.2, 2.2,6.8,4.5,3.0, 2.0,6.5,4.5,3.2, 3.5,7.8,6.0,4.5, 4.2,8.6,6.5,5.0, 3.2,7.8,5.8,4.5, 4.2,9.2,7.0,5.5],
  [-2.1,6.2,4.3,3.9, 4.0,9.2,8.5,8.0, 6.8,7.6,6.1,4.8, 5.0,8.0,7.5,6.0, 4.5,8.3,6.5,5.0, 3.6,7.5,5.5,3.5, 1.3,5.0,3.0,1.3, -1.1,2.5,0.5,-1.0, -3.0,2.0,-0.2,-1.8, -1.3,3.3,1.0,-0.5, 0.0,4.5,2.5,1.2, 0.0,4.3,2.5,1.0, -0.8,3.6,1.5,0.0, 1.2,5.8,3.8,2.5, 0.2,5.2,3.0,1.5],
  [-2.0,6.3,4.4,4.0, 3.6,8.8,8.1,7.6, 6.0,6.8,5.3,4.0, 3.0,6.0,5.5,4.0, 2.0,5.8,4.0,2.5, 1.1,5.0,3.0,1.0, -0.7,3.0,1.0,-0.7, -3.1,0.5,-1.5,-3.0, -5.0,0.0,-2.2,-3.8, -4.8,-0.2,-2.5,-4.0, -5.5,-1.0,-3.0,-4.3, -4.5,-0.2,-2.0,-3.5, -5.3,-0.9,-3.0,-4.5, -4.8,-0.2,-2.2,-3.5, -4.3,0.7,-1.5,-3.0],
  [-2.2,6.1,4.2,3.8, 3.4,8.6,7.9,7.4, 5.7,6.5,5.0,3.7, 2.5,5.5,5.0,3.5, 0.5,4.3,2.5,1.0, -0.4,3.5,1.5,-0.5, -2.7,1.0,-1.0,-2.7, -5.1,-1.5,-3.5,-5.0, -7.5,-2.5,-4.7,-6.3, -7.8,-3.2,-5.5,-7.0, -8.0,-3.5,-5.5,-6.8, -8.0,-3.7,-5.5,-7.0, -7.8,-3.4,-5.5,-7.0, -8.3,-3.7,-5.7,-7.0, -8.3,-3.3,-5.5,-7.0],
  [-2.3,6.0,4.1,3.7, 3.3,8.5,7.8,7.3, 5.3,6.1,4.6,3.3, 1.5,4.5,4.0,2.5, -0.5,3.3,1.5,0.0, -1.4,2.5,0.5,-1.5, -4.2,-0.5,-2.5,-4.2, -6.6,-3.0,-5.0,-6.5, -9.0,-4.0,-6.2,-7.8, -9.8,-5.2,-7.5,-9.0, -10.5,-6.0,-8.0,-9.3, -10.5,-6.2,-8.0,-9.5, -10.8,-6.4,-8.5,-10.0, -11.3,-6.7,-8.7,-10.0, -11.3,-6.3,-8.5,-10.0],
  [-1.9,6.4,4.5,4.1, 4.2,9.4,8.7,8.2, 7.3,8.1,6.6,5.3, 5.8,8.8,8.3,6.8, 5.0,9.8,7.0,5.5, 4.6,9.5,6.5,4.5, 2.3,7.0,4.0,2.3, 1.4,6.0,3.0,1.5, 0.5,6.5,3.3,1.7, 1.2,6.8,3.5,2.0, 0.5,6.0,3.0,1.7, 1.5,6.8,4.0,2.5, 2.2,7.6,4.5,3.0, 2.7,8.3,5.3,4.0, 2.2,8.2,5.0,3.5],
  [-2.1,6.2,4.3,3.9, 3.8,9.0,8.3,7.8, 6.2,7.0,5.5,4.2, 4.0,7.0,6.5,5.0, 2.5,7.3,5.5,4.0, 1.1,6.0,4.0,2.0, -2.2,2.5,0.5,-1.2, -2.6,2.0,0.0,-1.5, -3.0,3.0,0.8,-0.8, -3.8,1.8,-0.5,-2.0, -4.0,1.5,-0.5,-1.8, -2.5,2.8,1.0,-0.5, -2.8,2.6,0.5,-1.0, -3.3,2.3,0.3,-1.0, -3.8,2.2,0.0,-1.5],
  [-1.8,6.5,4.6,4.2, 4.4,9.6,8.9,8.4, 7.7,8.5,7.0,5.7, 4.5,7.5,7.0,5.5, 1.5,6.3,4.5,3.0, -0.4,4.5,2.5,0.5, -3.2,1.5,-0.5,-2.2, -5.6,-1.0,-3.0,-4.5, -7.0,-1.0,-3.2,-4.8, -7.8,-2.2,-4.5,-6.0, -8.5,-3.0,-5.0,-6.3, -7.0,-1.7,-3.5,-5.0, -7.3,-1.9,-4.0,-5.5, -7.8,-2.2,-4.2,-5.5, -7.3,-1.3,-3.5,-5.0],
  [-2.2,5.7,3.4,3.5, 3.2,8.4,7.7,7.2, 5.5,6.3,4.8,3.5, 3.5,6.5,6.0,4.5, 3.5,8.3,5.5,4.0, 4.1,9.0,6.0,4.0, 3.3,8.0,5.0,3.3, 3.9,8.5,5.5,4.0, 3.0,9.0,5.8,4.2, 3.2,8.8,5.5,4.0, 3.0,8.5,5.5,4.2, 4.5,9.8,7.0,5.5, 5.2,10.6,7.5,6.0, 4.7,10.3,7.3,6.0, 5.7,11.7,8.5,7.0],
];

// ---------------- Panel 7 (wo 09 feb 22:00) ----------------
const P7_DAYS = ['Do 10','Vr 11','Za 12','Zo 13','Ma 14','Di 15','Wo 16','Do 17','Vr 18','Za 19','Zo 20','Ma 21','Di 22','Wo 23','Do 24'];
const P7_OPER = [4.0,2.5,2.6,9.2, 7.8,6.5,5.5,9.3, 7.0,5.5,3.5,5.0, 7.0,4.5,2.2,7.0, 3.3,2.8,1.6,5.4, 5.0,3.0,2.8,6.2, 1.8,2.4,0.9,3.7, 0.5,-2.2,-1.5,1.8, -1.5,-3.5,-4.8,2.0, -1.5,-3.0,-6.0,0.5];
const P7_CONTROL = [3.8,2.2,2.3,9.0, 7.8,6.8,5.8,9.7, 7.5,5.5,3.0,5.0, 7.3,4.5,2.0,6.5, 3.5,2.8,1.8,5.2, 5.0,2.5,0.0,5.0, 1.5,-1.0,-2.1,2.8, -1.5,-4.0,-4.8,0.0, -2.5,-4.8,-5.6,-0.2, -3.0,-5.3,-5.6,0.5, -1.5,-4.5,-7.5,-3.0, -4.0,-6.5,-7.2,-0.7, -3.0,-5.8,-5.0,1.0, -1.5,-3.5,-5.5,-0.2, -2.5,-4.8,-6.0,-1.0];
const P7_AVERAGE = [3.8,2.4,2.5,8.7, 7.5,6.5,5.5,8.5, 6.8,5.0,3.8,5.0, 6.0,4.0,2.8,5.5, 3.5,2.8,2.0,4.8, 3.5,1.5,0.0,4.5, 2.0,0.0,-1.3,2.0, 0.0,-1.8,-2.8,0.8, -1.0,-2.2,-3.0,1.2, -0.5,-1.5,-2.0,2.5, 0.5,-1.0,-1.8,2.8, 0.8,-0.8,-1.7,2.7, 0.8,-0.8,-2.0,3.0, 1.0,-0.5,-1.0,3.5, 1.2,0.0,-1.3,4.5];
const P7_MEMBERS = [
  [4.1,2.7,2.8,9.0, 8.0,7.0,6.0,9.0, 7.8,6.0,4.8,6.0, 8.0,6.0,4.8,7.5, 6.5,5.8,5.0,7.8, 7.0,5.0,3.5,8.0, 6.5,4.5,3.2,6.5, 5.5,3.7,2.7,6.3, 5.0,3.8,3.0,7.2, 6.0,5.0,4.5,9.0, 7.5,6.0,5.2,9.8, 8.3,6.7,5.8,10.2, 8.3,6.7,5.5,10.5, 9.0,7.5,7.0,11.5, 9.2,8.0,6.7,12.5],
  [4.0,2.6,2.7,8.9, 7.8,6.8,5.8,8.8, 7.6,5.8,4.6,5.8, 7.5,5.5,4.3,7.0, 5.0,4.3,3.5,6.3, 6.0,4.0,2.5,7.0, 5.0,3.0,1.7,5.0, 3.5,1.7,0.7,4.3, 3.0,1.8,1.0,5.2, 3.5,2.5,2.0,6.5, 4.0,2.5,1.7,6.3, 5.3,3.7,2.8,7.2, 5.8,4.2,3.0,8.0, 5.0,3.5,3.0,7.5, 6.2,5.0,3.7,9.5],
  [3.7,2.3,2.4,8.6, 7.7,6.7,5.7,8.7, 7.1,5.3,4.1,5.3, 7.0,5.0,3.8,6.5, 5.0,4.3,3.5,6.3, 4.5,2.5,1.0,5.5, 2.5,0.5,-0.8,2.5, -0.5,-2.3,-3.3,0.3, -2.5,-3.7,-4.5,-0.3, -0.5,-1.5,-2.0,2.5, 1.0,-0.5,-1.3,3.3, 0.8,-0.8,-1.7,2.7, -0.2,-1.8,-3.0,2.0, 2.0,0.5,0.0,4.5, 1.2,0.0,-1.3,4.5],
  [3.8,2.4,2.5,8.7, 7.3,6.3,5.3,8.3, 6.3,4.5,3.3,4.5, 5.0,3.0,1.8,4.5, 2.5,1.8,1.0,3.8, 2.0,0.0,-1.5,3.0, 0.5,-1.5,-2.8,0.5, -2.5,-4.3,-5.3,-1.7, -4.0,-5.2,-6.0,-1.8, -4.0,-5.0,-5.5,-1.0, -4.0,-5.5,-6.3,-1.7, -3.7,-5.3,-6.2,-1.8, -4.2,-5.8,-7.0,-2.0, -4.0,-5.5,-6.0,-1.5, -3.8,-5.0,-6.3,-0.5],
  [3.6,2.2,2.3,8.5, 7.1,6.1,5.1,8.1, 6.0,4.2,3.0,4.2, 4.5,2.5,1.3,4.0, 1.0,0.3,-0.5,2.3, 0.5,-1.5,-3.0,1.5, -1.5,-3.5,-4.8,-1.5, -4.5,-6.3,-7.3,-3.7, -6.5,-7.7,-8.5,-4.3, -7.0,-8.0,-8.5,-4.0, -7.0,-8.5,-9.3,-4.7, -7.2,-8.8,-9.7,-5.3, -7.7,-9.3,-10.5,-5.5, -8.0,-9.5,-10.0,-5.5, -7.8,-9.0,-10.3,-4.5],
  [3.5,2.1,2.2,8.4, 7.0,6.0,5.0,8.0, 5.6,3.8,2.6,3.8, 3.5,1.5,0.3,3.0, 0.0,-0.7,-1.5,1.3, -0.5,-2.5,-4.0,0.5, -3.0,-5.0,-6.3,-3.0, -6.0,-7.8,-8.8,-5.2, -8.0,-9.2,-10.0,-5.8, -9.0,-10.0,-10.5,-6.0, -9.5,-11.0,-11.8,-7.2, -10.2,-11.8,-12.7,-8.3, -10.7,-12.3,-13.5,-8.5, -11.0,-12.5,-13.0,-8.5, -10.8,-12.0,-13.3,-7.5],
  [3.9,2.5,2.6,8.8, 7.9,6.9,5.9,8.9, 7.6,5.8,4.6,5.8, 7.8,5.8,4.6,7.3, 5.5,4.8,4.0,7.8, 5.5,3.5,2.0,7.5, 3.5,1.5,0.2,4.5, 2.0,0.2,-0.8,3.8, 1.5,0.3,-0.5,4.7, 2.5,1.5,1.0,6.5, 2.5,1.0,0.2,5.8, 3.3,1.7,0.8,6.2, 3.8,2.2,1.0,7.0, 4.5,3.0,2.5,8.0, 4.2,3.0,1.7,8.5],
  [3.7,2.3,2.4,8.6, 7.5,6.5,5.5,8.5, 6.5,4.7,3.5,4.7, 6.0,4.0,2.8,5.5, 4.0,3.3,1.5,5.3, 3.0,1.0,-1.5,4.0, 0.0,-2.0,-4.3,0.0, -1.0,-2.8,-4.8,-0.2, -1.0,-2.2,-4.0,1.2, -1.5,-2.5,-4.0,1.5, -1.0,-2.5,-4.3,1.3, 0.3,-1.3,-3.2,2.2, -0.2,-1.8,-4.0,2.0, -0.5,-2.0,-3.5,2.0, -0.8,-2.0,-4.3,2.5],
  [4.0,2.6,2.7,8.9, 8.1,7.1,6.1,9.1, 8.0,6.2,5.0,6.2, 6.5,4.5,3.3,6.0, 3.0,2.3,0.5,4.3, 1.5,-0.5,-3.0,2.5, -1.0,-3.0,-5.3,-1.0, -4.0,-5.8,-7.8,-3.2, -5.5,-6.7,-8.5,-3.3, -6.0,-7.0,-8.5,-3.0, -6.0,-7.5,-9.3,-3.7, -5.2,-6.8,-8.7,-3.3, -5.7,-7.3,-9.5,-3.5, -6.0,-7.5,-9.0,-3.5, -5.3,-6.5,-8.8,-2.0],
  [3.6,1.8,1.5,8.2, 7.0,6.0,5.0,8.0, 5.8,4.0,2.8,4.0, 5.5,3.5,2.3,5.0, 4.0,3.3,2.5,6.3, 5.0,3.0,1.5,7.0, 4.5,2.5,1.2,5.5, 4.5,2.7,1.7,6.3, 4.0,2.8,2.0,7.2, 4.5,3.5,3.0,8.5, 5.0,3.5,2.7,8.3, 6.3,4.7,3.8,9.2, 6.8,5.2,4.0,10.0, 6.5,5.0,4.5,10.0, 7.7,6.5,5.2,12.0],
];

// ---------------- Panel 8 (do 10 feb 10:00) ----------------
const P8_DAYS = ['Vr 11','Za 12','Zo 13','Ma 14','Di 15','Wo 16','Do 17','Vr 18','Za 19','Zo 20','Ma 21','Di 22','Wo 23','Do 24'];
const P8_OPER = [3.5,8.8,7.6,6.5, 6.7,7.4,4.1,5.4, 3.6,5.4,7.0,5.4, 1.8,6.4,4.5,2.2, 2.9,6.7,4.0,-1.2, 0.7,6.3,2.7,1.8, 0.7,5.4,1.8,0.0, 0.0,6.4,2.5,0.9, -0.9,6.5,0.7,-1.8, -4.0,5.2,2.2,-1.6];
const P8_CONTROL = [3.5,9.7,8.0,7.0, 6.5,8.2,6.3,5.6, 4.0,6.0,7.2,5.8, 2.5,7.0,5.6,4.0, 5.2,7.0,5.4,1.1, 1.4,5.2,1.1,0.7, 0.6,4.7,1.8,0.2, -1.3,5.8,5.7,5.4, 3.0,8.0,6.3,5.0, 4.0,7.3,5.6,4.5, 2.0,8.8,6.0,4.5, 4.0,8.0,9.0,9.5, 8.0,8.5,7.5,6.8, 5.5,8.0,5.5,4.6, 7.2,8.6,7.6,6.8];
const P8_AVERAGE = [3.5,8.7,7.8,6.8, 6.8,7.5,5.5,5.0, 4.2,5.0,6.5,5.0, 2.8,6.3,4.0,3.5, 3.5,6.0,4.0,1.5, 1.0,4.8,2.5,0.5, -0.5,3.5,1.5,0.0, -1.3,3.3,1.5,0.0, -0.8,3.8,2.0,0.8, 0.2,4.7,3.0,1.5, 0.5,5.5,3.0,1.5, 0.5,5.2,3.0,1.5, 0.7,5.5,3.5,2.3, 1.3,6.3,4.0,3.0, 2.2,7.0,5.3,4.0];
const P8_MEMBERS = [
  [3.8,9.0,8.1,7.1, 7.3,8.0,6.0,5.5, 5.2,6.0,7.5,6.0, 4.8,8.3,6.0,5.5, 6.5,9.0,7.0,4.5, 4.5,8.3,6.0,4.0, 4.0,8.0,6.0,4.5, 4.2,8.8,7.0,5.5, 5.2,9.8,8.0,6.8, 6.7,11.2,9.5,8.0, 7.5,12.5,10.0,8.5, 8.0,12.7,10.5,9.0, 8.2,13.0,11.0,9.8, 8.3,13.3,11.0,10.0, 9.2,14.0,12.3,11.0],
  [3.7,8.9,8.0,7.0, 7.1,7.8,5.8,5.3, 5.0,5.8,7.3,5.8, 4.3,7.8,5.5,5.0, 5.0,7.5,5.5,3.0, 3.5,7.3,5.0,3.0, 2.5,6.5,4.5,3.0, 2.2,6.8,5.0,3.5, 3.2,7.8,6.0,4.8, 4.2,8.7,7.0,5.5, 4.0,9.0,6.5,5.0, 5.0,9.7,7.5,6.0, 5.7,10.5,8.5,7.3, 5.3,10.3,8.0,7.0, 7.2,12.0,10.3,9.0],
  [3.4,8.6,7.7,6.7, 7.0,7.7,5.7,5.2, 4.5,5.3,6.8,5.3, 3.8,7.3,5.0,4.5, 5.0,7.5,5.5,3.0, 2.0,5.8,3.5,1.5, 0.0,4.0,2.0,0.5, -1.8,2.8,1.0,-0.5, -2.3,2.3,0.5,-0.7, 0.2,4.7,3.0,1.5, 1.0,6.0,3.5,2.0, 0.5,5.2,3.0,1.5, -0.3,4.5,2.5,1.3, 2.3,7.3,5.0,4.0, 2.2,7.0,5.3,4.0],
  [3.5,8.7,7.8,6.8, 6.6,7.3,5.3,4.8, 3.7,4.5,6.0,4.5, 1.8,5.3,3.0,2.5, 2.5,5.0,3.0,0.5, -0.5,3.3,1.0,-1.0, -2.0,2.0,0.0,-1.5, -3.8,0.8,-1.0,-2.5, -3.8,0.8,-1.0,-2.2, -3.3,1.2,-0.5,-2.0, -4.0,1.0,-1.5,-3.0, -4.0,0.7,-1.5,-3.0, -4.3,0.5,-1.5,-2.7, -3.7,1.3,-1.0,-2.0, -2.8,2.0,0.3,-1.0],
  [3.3,8.5,7.6,6.6, 6.4,7.1,5.1,4.6, 3.4,4.2,5.7,4.2, 1.3,4.8,2.5,2.0, 1.0,3.5,1.5,-1.0, -2.0,1.8,-0.5,-2.5, -4.0,0.0,-2.0,-3.5, -5.8,-1.2,-3.0,-4.5, -6.3,-1.7,-3.5,-4.7, -6.3,-1.8,-3.5,-5.0, -7.0,-2.0,-4.5,-6.0, -7.5,-2.8,-5.0,-6.5, -7.8,-3.0,-5.0,-6.2, -7.7,-2.7,-5.0,-6.0, -6.8,-2.0,-3.7,-5.0],
  [3.2,8.4,7.5,6.5, 6.3,7.0,5.0,4.5, 3.0,3.8,5.3,3.8, 0.3,3.8,1.5,1.0, 0.0,2.5,0.5,-2.0, -3.0,0.8,-1.5,-3.5, -5.5,-1.5,-3.5,-5.0, -7.3,-2.7,-4.5,-6.0, -7.8,-3.2,-5.0,-6.2, -8.3,-3.8,-5.5,-7.0, -9.5,-4.5,-7.0,-8.5, -10.5,-5.8,-8.0,-9.5, -10.8,-6.0,-8.0,-9.2, -10.2,-5.2,-7.5,-8.5, -8.8,-4.0,-5.7,-7.0],
  [3.6,8.8,7.9,6.9, 7.2,7.9,5.9,5.4, 5.0,5.8,7.3,5.8, 4.6,8.1,5.8,5.3, 5.5,9.0,6.0,3.5, 3.0,7.8,4.5,2.5, 1.0,6.0,3.0,1.5, 0.7,6.3,3.5,2.0, 1.7,7.3,4.5,3.3, 3.2,8.7,6.0,4.5, 2.5,8.5,5.0,3.5, 3.0,8.7,5.5,4.0, 3.7,9.5,6.5,5.3, 4.8,10.8,7.5,6.5, 5.2,11.0,8.3,7.0],
  [3.4,8.6,7.7,6.7, 6.8,7.5,5.5,5.0, 3.9,4.7,6.2,4.7, 2.8,6.3,4.0,3.5, 3.0,6.5,4.5,2.0, -0.5,4.3,2.0,0.0, -3.5,1.5,-0.5,-2.0, -3.3,2.3,0.5,-1.0, -1.8,3.8,2.0,0.8, -1.8,3.7,2.0,0.5, -2.0,4.0,1.5,0.0, -1.0,4.7,2.5,1.0, -1.3,4.5,2.5,1.3, -1.2,4.8,2.5,1.5, -0.8,5.0,3.3,2.0],
  [3.7,8.9,8.0,7.0, 7.4,8.1,6.1,5.6, 5.4,6.2,7.7,6.2, 3.3,6.8,4.5,4.0, 2.0,5.5,3.5,1.0, -2.0,2.8,0.5,-1.5, -4.5,0.5,-1.5,-3.0, -6.3,-0.7,-2.5,-4.0, -6.3,-0.7,-2.5,-3.7, -6.3,-0.8,-2.5,-4.0, -7.0,-1.0,-3.5,-5.0, -6.5,-0.8,-3.0,-4.5, -6.8,-1.0,-3.0,-4.2, -6.7,-0.7,-3.0,-4.0, -5.3,0.5,-1.2,-2.5],
  [3.3,8.1,6.8,6.3, 6.2,6.9,4.9,4.4, 3.2,4.0,5.5,4.0, 2.3,5.8,3.5,3.0, 4.0,7.5,4.5,2.0, 2.5,7.3,4.0,2.0, 2.0,7.0,4.0,2.5, 3.2,8.8,6.0,4.5, 4.2,9.8,7.0,5.8, 5.2,10.7,8.0,6.5, 5.0,11.0,7.5,6.0, 6.0,11.7,8.5,7.0, 6.7,12.5,9.5,8.3, 6.8,12.8,9.5,8.5, 8.0,13.5,11.0,10.0],
];

// ---------------- Panel 9 (do 10 feb 22:00) ----------------
const P9_DAYS = ['Vr 11','Za 12','Zo 13','Ma 14','Di 15','Wo 16','Do 17','Vr 18','Za 19','Zo 20','Ma 21','Di 22','Wo 23','Do 24','Vr 25'];
const P9_OPER = [7.8,7.3,6.5,6.8, 5.2,2.3,1.3,1.9, 6.2,6.0,4.4,7.3, 4.2,3.6,2.7,7.0, 5.3,5.3,3.9,2.7, 0.0,1.4,0.6,2.4, -0.9,-3.5,-6.0,-2.7, -4.7,-6.5,-6.8,-1.9, -4.7,-6.8,-6.9,-2.4, -3.7,-5.0,-6.0,-4.5];
const P9_CONTROL = [8.3,7.3,6.5,7.8, 6.2,3.4,1.6,2.7, 5.5,6.0,2.7,6.2, 3.2,3.2,1.9,5.7, 4.7,1.4,0.4,0.7, -0.2,-1.4,-4.0,-4.0, -4.7,-5.3,-6.0,-4.7, -5.3,-7.8,-9.8,-4.5, -5.6,-7.6,-11.5,-5.0, -7.0,-9.3,-9.6,-3.2, -2.7,-7.0,-3.5,0.9, -4.2,-6.5,-8.3,-1.9, -4.7,-8.6,-9.3,-3.0, -5.8,-7.6,-9.3,-3.3, -5.0,-8.1,-9.1,-3.2];
const P9_AVERAGE = [8.0,7.3,6.5,7.0, 5.8,3.0,1.8,3.0, 5.0,4.8,3.8,6.0, 4.0,3.5,2.5,5.5, 4.5,3.0,1.5,3.0, 0.3,-1.0,-2.3,1.5, -1.5,-3.0,-3.8,0.3, -2.0,-3.5,-4.5,0.2, -2.0,-3.5,-4.2,-0.2, -2.0,-3.5,-4.5,0.5, -2.3,-3.8,-4.8,1.3, -1.5,-3.0,-4.0,1.3, -0.8,-2.3,-2.8,2.3, 0.5,-0.8,-1.5,3.3, 1.8,0.2,-0.6,4.5];
const P9_MEMBERS = [
  [8.3,7.6,6.8,7.3, 6.3,3.5,2.3,3.5, 6.0,5.8,4.8,7.0, 6.0,5.5,4.5,7.5, 7.5,6.0,4.5,6.0, 4.3,3.0,1.7,5.5, 3.5,2.0,1.2,5.3, 4.5,3.0,2.0,6.7, 5.5,4.0,3.3,7.3, 6.5,5.0,4.0,9.0, 6.7,5.2,4.2,10.3, 8.0,6.5,5.5,10.8, 9.2,7.7,7.2,12.3, 10.5,9.2,8.5,13.3, 11.8,10.2,9.4,14.5],
  [8.2,7.5,6.7,7.2, 6.1,3.3,2.1,3.3, 5.8,5.6,4.6,6.8, 5.5,5.0,4.0,7.0, 6.5,5.0,3.5,5.0, 3.3,2.0,0.7,4.5, 2.0,0.5,-0.3,3.8, 2.5,1.0,0.0,4.7, 3.0,1.5,0.8,4.8, 3.5,2.0,1.0,6.0, 3.2,1.7,0.7,6.8, 4.5,3.0,2.0,7.3, 5.2,3.7,3.2,8.3, 6.0,4.7,4.0,8.8, 7.8,6.2,5.4,10.5],
  [7.9,7.2,6.4,6.9, 6.0,3.2,2.0,3.2, 5.3,5.1,4.1,6.3, 5.0,4.5,3.5,6.5, 5.5,4.0,2.5,4.0, 1.3,0.0,-1.3,2.5, -1.0,-2.5,-3.3,0.8, -1.0,-2.5,-3.5,1.2, -1.0,-2.5,-3.2,0.8, 0.0,-1.5,-2.5,2.5, -0.8,-2.3,-3.3,2.8, 1.0,-0.5,-1.5,3.8, 0.7,-0.8,-1.3,3.8, 3.5,2.2,1.5,6.3, 3.8,2.2,1.4,6.5],
  [8.0,7.3,6.5,7.0, 5.6,2.8,1.6,2.8, 4.5,4.3,3.3,5.5, 3.0,2.5,1.5,4.5, 3.5,2.0,0.5,2.0, -1.2,-2.5,-3.8,0.0, -3.0,-4.5,-5.3,-1.2, -4.0,-5.5,-6.5,-1.8, -4.5,-6.0,-6.7,-2.7, -4.5,-6.0,-7.0,-2.0, -5.3,-6.8,-7.8,-1.7, -4.5,-6.0,-7.0,-1.7, -4.3,-5.8,-6.3,-1.2, -2.5,-3.8,-4.5,0.3, -1.2,-2.8,-3.6,1.5],
  [7.8,7.1,6.3,6.8, 5.4,2.6,1.4,2.6, 4.2,4.0,3.0,5.2, 2.5,2.0,1.0,4.0, 2.0,0.5,-1.0,0.5, -2.7,-4.0,-5.3,-1.5, -5.0,-6.5,-7.3,-3.2, -6.5,-8.0,-9.0,-4.3, -7.0,-8.5,-9.2,-5.2, -7.5,-9.0,-10.0,-5.0, -8.8,-10.3,-11.3,-5.2, -8.5,-10.0,-11.0,-5.7, -7.8,-9.3,-9.8,-4.7, -7.0,-8.3,-9.0,-4.2, -5.2,-6.8,-7.6,-2.5],
  [7.7,7.0,6.2,6.7, 5.3,2.5,1.3,2.5, 3.8,3.6,2.6,4.8, 1.5,1.0,0.0,3.0, 1.5,0.0,-1.5,0.0, -3.7,-5.0,-6.3,-2.5, -6.5,-8.0,-8.8,-4.7, -8.0,-9.5,-10.5,-5.8, -9.0,-10.5,-11.2,-7.2, -10.0,-11.5,-12.5,-7.5, -11.8,-13.3,-14.3,-8.2, -12.0,-13.5,-14.5,-9.2, -11.8,-13.3,-13.8,-8.7, -10.5,-11.8,-12.5,-7.7, -8.7,-10.3,-11.1,-6.0],
  [8.1,7.4,6.6,7.1, 6.2,3.4,2.2,3.4, 5.8,5.6,4.6,6.8, 5.8,5.3,4.3,7.3, 6.5,5.0,3.5,6.0, 2.8,1.5,0.2,5.0, 1.5,0.0,-0.8,4.3, 2.0,0.5,-0.5,5.2, 2.5,1.0,0.3,5.3, 3.0,1.5,0.5,6.5, 2.7,1.2,0.2,7.3, 4.0,2.5,1.5,7.8, 5.2,3.7,3.2,9.3, 7.0,5.7,5.0,10.8, 7.8,6.2,5.4,11.5],
  [7.9,7.2,6.4,6.9, 5.8,3.0,1.8,3.0, 4.7,4.5,3.5,5.7, 4.0,3.5,2.5,5.5, 5.0,3.5,1.0,3.5, -0.2,-1.5,-3.8,1.0, -3.5,-5.0,-6.8,-1.7, -3.0,-4.5,-6.5,-0.8, -2.0,-3.5,-5.2,-0.2, -3.0,-4.5,-6.5,-0.5, -3.8,-5.3,-7.3,-0.2, -2.0,-3.5,-5.5,0.8, -1.8,-3.3,-4.8,1.3, -1.0,-2.3,-4.0,1.8, -0.2,-1.8,-3.6,2.5],
  [8.2,7.5,6.7,7.2, 6.4,3.6,2.4,3.6, 6.2,6.0,5.0,7.2, 4.5,4.0,3.0,6.0, 4.0,2.5,0.0,2.5, -1.7,-3.0,-5.3,-0.5, -4.5,-6.0,-7.8,-2.7, -6.0,-7.5,-9.5,-3.8, -7.0,-8.5,-10.2,-5.2, -8.0,-9.5,-11.5,-5.5, -9.3,-10.8,-12.8,-5.7, -8.0,-9.5,-11.5,-5.2, -7.8,-9.3,-10.8,-4.7, -7.0,-8.3,-10.0,-4.2, -5.2,-6.8,-8.6,-2.5],
  [7.8,7.1,6.3,6.8, 5.2,2.4,1.2,2.4, 4.0,3.8,2.8,5.0, 3.5,3.0,2.0,5.0, 5.0,3.5,2.0,4.5, 1.8,0.5,-0.8,4.0, 1.0,-0.5,-1.3,3.8, 2.5,1.0,0.0,5.7, 3.0,1.5,0.8,5.8, 3.0,1.5,0.5,6.5, 2.2,0.7,-0.3,6.8, 4.0,2.5,1.5,7.8, 5.2,3.7,3.2,9.3, 6.0,4.7,4.0,9.8, 8.3,6.7,5.9,12.0],
];

// ---------------- Styling ----------------
const FONT = '"Liberation Sans", Arial, Helvetica, sans-serif';
const OPER_COLOR = '#a63b33';
const CONTROL_COLOR = '#2c3a8e';
const MEMBER_COLORS = [
  'rgba(60,150,25,0.6)', 'rgba(95,172,60,0.55)', 'rgba(55,140,20,0.6)', 'rgba(105,178,70,0.55)', 'rgba(70,158,35,0.6)',
  'rgba(90,168,55,0.55)', 'rgba(65,152,30,0.6)', 'rgba(110,182,78,0.55)', 'rgba(58,145,24,0.6)', 'rgba(100,175,65,0.55)',
];
const N_STEPS = 60;

type PanelDef = {
  made: string; yMin: number; yMax: number; firstDay: number; days: string[];
  oper: number[]; control: number[]; average: number[]; members: number[][];
  top: number; height: number;
};

const PANELS: PanelDef[] = [
  { made: 'Gemaakt: do 03 feb 22:00', yMin: -15, yMax: 15, firstDay: 1, days: P1_DAYS, oper: P1_OPER, control: P1_CONTROL, average: P1_AVERAGE, members: P1_MEMBERS, top: 0, height: 302 },
  { made: 'Gemaakt: ma 07 feb 10:00', yMin: -15, yMax: 15, firstDay: 3, days: P2_DAYS, oper: P2_OPER, control: P2_CONTROL, average: P2_AVERAGE, members: P2_MEMBERS, top: 300, height: 302 },
  { made: 'Gemaakt: ma 07 feb 22:00', yMin: -15, yMax: 15, firstDay: 1, days: P3_DAYS, oper: P3_OPER, control: P3_CONTROL, average: P3_AVERAGE, members: P3_MEMBERS, top: 600, height: 302 },
  { made: 'Gemaakt: di 08 feb 10:00', yMin: -15, yMax: 15, firstDay: 3, days: P4_DAYS, oper: P4_OPER, control: P4_CONTROL, average: P4_AVERAGE, members: P4_MEMBERS, top: 902, height: 302 },
  { made: 'Gemaakt: di 08 feb 22:00', yMin: -20, yMax: 15, firstDay: 1, days: P5_DAYS, oper: P5_OPER, control: P5_CONTROL, average: P5_AVERAGE, members: P5_MEMBERS, top: 1200, height: 302 },
  { made: 'Gemaakt: wo 09 feb 10:00', yMin: -15, yMax: 20, firstDay: 3, days: P6_DAYS, oper: P6_OPER, control: P6_CONTROL, average: P6_AVERAGE, members: P6_MEMBERS, top: 1500, height: 302 },
  { made: 'Gemaakt: wo 09 feb 22:00', yMin: -20, yMax: 20, firstDay: 1, days: P7_DAYS, oper: P7_OPER, control: P7_CONTROL, average: P7_AVERAGE, members: P7_MEMBERS, top: 1804, height: 302 },
  { made: 'Gemaakt: do 10 feb 10:00', yMin: -15, yMax: 20, firstDay: 3, days: P8_DAYS, oper: P8_OPER, control: P8_CONTROL, average: P8_AVERAGE, members: P8_MEMBERS, top: 2107, height: 302 },
  { made: 'Gemaakt: do 10 feb 22:00', yMin: -20, yMax: 20, firstDay: 1, days: P9_DAYS, oper: P9_OPER, control: P9_CONTROL, average: P9_AVERAGE, members: P9_MEMBERS, top: 2407, height: 309 },
];

const toXY = (arr: number[]) => arr.map((y, x) => ({ x, y }));

const glowPlugin = {
  id: 'glow',
  beforeDatasetDraw(chart: any, args: any) {
    const ds = chart.data.datasets[args.index];
    if (ds.glowColor) {
      chart.ctx.save();
      chart.ctx.shadowColor = ds.glowColor;
      chart.ctx.shadowBlur = ds.glowBlur || 4;
    }
  },
  afterDatasetDraw(chart: any, args: any) {
    const ds = chart.data.datasets[args.index];
    if (ds.glowColor) chart.ctx.restore();
  },
};

const headerPlugin = {
  id: 'header',
  afterDraw(chart: any, _args: any, opts: any) {
    const ctx = chart.ctx as CanvasRenderingContext2D;
    const area = chart.chartArea;
    ctx.save();
    ctx.strokeStyle = '#000';
    ctx.lineWidth = 1;
    ctx.beginPath();
    ctx.moveTo(area.left, area.top + 0.5);
    ctx.lineTo(area.right, area.top + 0.5);
    ctx.stroke();

    const ly = 19;
    ctx.fillStyle = OPER_COLOR;
    ctx.fillRect(28, ly - 2, 17, 4);
    ctx.fillStyle = CONTROL_COLOR;
    ctx.fillRect(97, ly - 2, 16, 4);
    ctx.strokeStyle = '#b7d0a8';
    ctx.lineWidth = 1;
    ctx.beginPath();
    ctx.moveTo(175, ly + 0.5);
    ctx.lineTo(190, ly + 0.5);
    ctx.stroke();
    ctx.strokeStyle = '#2a1808';
    ctx.lineWidth = 3;
    ctx.setLineDash([2, 2]);
    ctx.beginPath();
    ctx.moveTo(262, ly);
    ctx.lineTo(277, ly);
    ctx.stroke();
    ctx.setLineDash([]);

    ctx.font = `11.5px ${FONT}`;
    ctx.fillStyle = '#222';
    ctx.textBaseline = 'middle';
    ctx.textAlign = 'left';
    ctx.fillText('Oper', 47, ly);
    ctx.fillText('Control', 115, ly);
    ctx.fillText('Members', 193, ly);
    ctx.fillText('Average', 281, ly);

    ctx.font = `bold 14px ${FONT}`;
    ctx.fillStyle = '#111';
    ctx.fillText('Temperatuur 2m', 363, 20);

    ctx.font = `10px ${FONT}`;
    ctx.fillStyle = '#9a9a9a';
    ctx.textAlign = 'right';
    ctx.fillText('Infoplaza.nl - regio midden', 632, 9);
    ctx.fillText(opts.made, 632, 20);
    ctx.restore();
  },
};

function buildConfig(p: PanelDef): any {
  const isDay = (v: number) => v >= p.firstDay && (v - p.firstDay) % 4 === 0;
  const datasets: any[] = [
    { data: toXY(p.oper), borderColor: OPER_COLOR, borderWidth: 3.5, glowColor: 'rgba(255,105,105,0.95)', glowBlur: 5 },
    { data: toXY(p.control), borderColor: CONTROL_COLOR, borderWidth: 3.5, glowColor: 'rgba(110,150,255,0.95)', glowBlur: 5 },
    { data: toXY(p.average), borderColor: '#160e05', borderWidth: 3, borderDash: [3, 2] },
    { data: toXY(p.average), borderColor: 'rgba(242,230,175,0.9)', borderWidth: 3.5 },
    ...p.members.map((m, i) => ({
      data: toXY(m),
      borderColor: MEMBER_COLORS[i % MEMBER_COLORS.length],
      borderWidth: 1.1,
      glowColor: 'rgba(130,200,100,0.55)',
      glowBlur: 2,
    })),
  ];
  return {
    type: 'line',
    data: { datasets },
    plugins: [glowPlugin, headerPlugin],
    options: {
      responsive: false,
      animation: false,
      devicePixelRatio: 1,
      events: [],
      layout: { padding: { top: 27, right: 0, left: 0, bottom: p.height - 302 } },
      elements: { point: { radius: 0 }, line: { tension: 0, fill: false } },
      plugins: {
        legend: { display: false },
        tooltip: { enabled: false },
        header: { made: p.made },
      },
      scales: {
        x: {
          type: 'linear',
          min: 0,
          max: N_STEPS - 1,
          afterFit: (s: any) => { s.height = 15; },
          afterBuildTicks: (s: any) => { s.ticks = Array.from({ length: N_STEPS }, (_, i) => ({ value: i })); },
          ticks: {
            autoSkip: false,
            maxRotation: 0,
            padding: 0,
            color: '#222',
            font: { size: 11, family: FONT },
            callback: (v: number) => {
              if (!isDay(v)) return '';
              const idx = (v - p.firstDay) / 4;
              return idx < p.days.length ? p.days[idx] : '';
            },
          },
          grid: {
            color: (c: any) => (c.tick && isDay(c.tick.value) ? '#4d4d4d' : '#d9d9d9'),
            lineWidth: 1,
            tickLength: 4,
            tickColor: '#444',
          },
          border: { display: true, color: '#000', width: 1 },
        },
        y: {
          min: p.yMin,
          max: p.yMax,
          afterFit: (s: any) => { s.width = 28; },
          afterBuildTicks: (s: any) => {
            const t: any[] = [];
            for (let v = p.yMin; v <= p.yMax; v += 5) t.push({ value: v });
            s.ticks = t;
          },
          ticks: { color: '#222', padding: 2, font: { size: 12, family: FONT } },
          grid: {
            color: (c: any) => (c.tick && (c.tick.value === 0 || c.tick.value === p.yMax) ? '#000' : '#d9d9d9'),
            lineWidth: (c: any) => (c.tick && c.tick.value === 0 ? 3 : 1),
            tickLength: 4,
            tickColor: '#000',
          },
          border: { display: true, color: '#000', width: 1 },
        },
      },
    },
  };
}

function Panel({ p }: { p: PanelDef }) {
  const ref = useRef<HTMLCanvasElement>(null);
  useEffect(() => {
    if (!ref.current) return;
    const chart = new Chart(ref.current, buildConfig(p));
    return () => chart.destroy();
  }, [p]);
  return (
    <canvas
      ref={ref}
      width={634}
      height={p.height}
      style={{ position: 'absolute', left: 0, top: p.top, width: 634, height: p.height, display: 'block' }}
    />
  );
}

export default function App() {
  return (
    <div style={{ position: 'absolute', left: 0, top: 0, width: 634, height: 2716, background: '#fff', overflow: 'hidden' }}>
      {PANELS.map((p, i) => (
        <Panel key={i} p={p} />
      ))}
    </div>
  );
}
